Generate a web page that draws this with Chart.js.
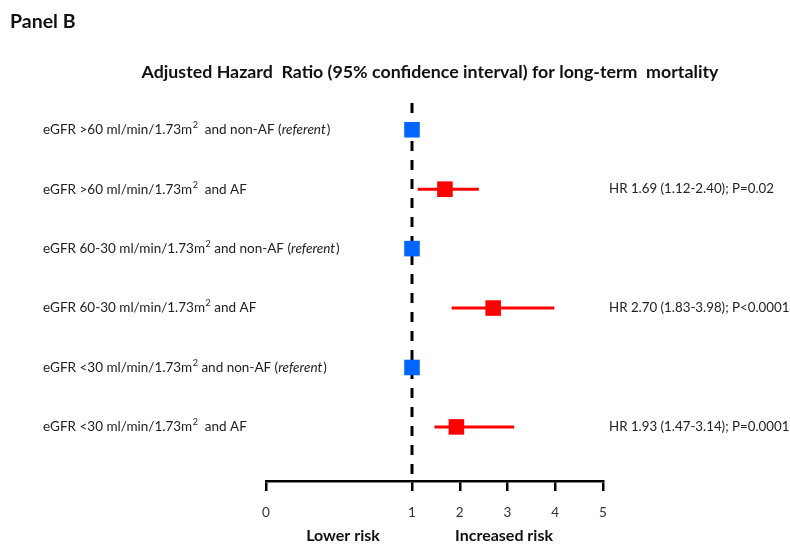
<!DOCTYPE html>
<html><head><meta charset="utf-8">
<script src="https://cdn.jsdelivr.net/npm/chart.js@4/dist/chart.umd.min.js"></script>
<style>html,body{margin:0;padding:0;background:#fff}#wrap{width:790px;height:552px;position:relative}</style>
</head><body><div id="wrap"><canvas id="c" width="790" height="552"></canvas></div>
<script>
// ---- data ----
const categories = [
  "eGFR >60 ml/min/1.73m\u00B2  and non-AF",
  "eGFR >60 ml/min/1.73m\u00B2  and AF",
  "eGFR 60-30 ml/min/1.73m\u00B2 and non-AF",
  "eGFR 60-30 ml/min/1.73m\u00B2 and AF",
  "eGFR <30 ml/min/1.73m\u00B2 and non-AF",
  "eGFR <30 ml/min/1.73m\u00B2  and AF"
];
const isReferent = [true, false, true, false, true, false];
const hazardRatio = [1, 1.69, 1, 2.70, 1, 1.93];
const ciLower = [null, 1.12, null, 1.83, null, 1.47];
const ciUpper = [null, 2.40, null, 3.98, null, 3.14];
const annotations = ["", "HR 1.69 (1.12-2.40); P=0.02", "", "HR 2.70 (1.83-3.98); P<0.0001", "", "HR 1.93 (1.47-3.14); P=0.0001"];
const xTickValues = [0, 1, 2, 3, 4, 5];
const referenceValue = 1;

// ---- custom broken axis: 0..1 stretched, 1..5 compressed ----
const SPLIT = 146 / 337;
class BrokenScale extends Chart.LinearScale {
  getPixelForValue(v) {
    const a = this.left, w = this.width;
    if (v <= 1) return a + v * SPLIT * w;
    return a + SPLIT * w + (v - 1) / 4 * (1 - SPLIT) * w;
  }
  getValueForPixel(p) {
    const a = this.left, w = this.width, r = (p - a) / w;
    if (r <= SPLIT) return r / SPLIT;
    return 1 + (r - SPLIT) / (1 - SPLIT) * 4;
  }
  buildTicks() { return xTickValues.map(v => ({ value: v })); }
}
BrokenScale.id = 'broken';
BrokenScale.defaults = Chart.LinearScale.defaults;
Chart.register(BrokenScale);

const FONT = "Lato, 'Open Sans', sans-serif";
const Y_MIN = -0.45, Y_MAX = 5.91;

const datasets = [];
// points
datasets.push({
  type: 'scatter',
  data: hazardRatio.map((v, i) => ({ x: v, y: i })),
  pointStyle: 'rect',
  pointRadius: 11,
  pointBorderWidth: 0,
  backgroundColor: isReferent.map(r => r ? '#0066ff' : '#ff0000'),
  borderColor: isReferent.map(r => r ? '#0066ff' : '#ff0000'),
  order: 0
});
// CI lines
hazardRatio.forEach((v, i) => {
  if (ciLower[i] == null) return;
  datasets.push({
    type: 'line',
    data: [{ x: ciLower[i], y: i }, { x: ciUpper[i], y: i }],
    borderColor: '#ff0000',
    borderWidth: 3,
    pointRadius: 0,
    order: 1
  });
});
// reference dashed line at HR = 1
datasets.push({
  type: 'line',
  data: [{ x: referenceValue, y: Y_MIN }, { x: referenceValue, y: Y_MAX }],
  borderColor: '#000',
  borderWidth: 3,
  borderDash: [10, 9],
  pointRadius: 0,
  clip: false,
  order: 2
});

// draw text where '²' is rendered as a raised small "2"
function drawSup(ctx, text, x, y, size, style) {
  const parts = text.split('\u00B2');
  parts.forEach((p, k) => {
    ctx.font = `${style} ${size}px ${FONT}`;
    ctx.fillText(p, x, y);
    x += ctx.measureText(p).width;
    if (k < parts.length - 1) {
      ctx.font = `${style} ${Math.round(size * 0.68)}px ${FONT}`;
      ctx.fillText('2', x + 0.5, y - 4.5);
      x += ctx.measureText('2').width + 0.5;
    }
  });
  return x;
}

const textPlugin = {
  id: 'texts',
  afterDraw(chart) {
    const ctx = chart.ctx;
    const ys = chart.scales.y;
    ctx.save();
    ctx.textBaseline = 'middle';
    // Panel label
    ctx.fillStyle = '#111';
    ctx.font = `bold 19.5px ${FONT}`;
    ctx.textAlign = 'left';
    ctx.fillText('Panel B', 10, 22);
    // Title
    ctx.font = `bold 17.8px ${FONT}`;
    ctx.textAlign = 'center';
    ctx.fillText('Adjusted Hazard  Ratio (95% confidence interval) for long-term  mortality', 430, 72);
    // Row labels
    ctx.textAlign = 'left';
    ctx.fillStyle = '#222';
    const LS = 13.5;
    categories.forEach((c, i) => {
      const y = ys.getPixelForValue(i);
      let x = drawSup(ctx, c, 43, y, LS, 'normal');
      if (isReferent[i]) {
        ctx.font = `${LS}px ${FONT}`;
        ctx.fillText(' (', x, y); x += ctx.measureText(' (').width;
        ctx.font = `italic ${LS}px ${FONT}`;
        ctx.fillText('referent', x, y); x += ctx.measureText('referent').width + 1;
        ctx.font = `${LS}px ${FONT}`;
        ctx.fillText(')', x, y);
      }
      if (annotations[i]) {
        ctx.font = `13.3px ${FONT}`;
        ctx.fillText(annotations[i], 609, y);
      }
    });
    // Axis side labels
    ctx.fillStyle = '#111';
    ctx.font = `bold 16px ${FONT}`;
    ctx.textAlign = 'center';
    ctx.fillText('Lower risk', 343, 536);
    ctx.fillText('Increased risk', 504, 536);
    ctx.restore();
  }
};

new Chart(document.getElementById('c'), {
  type: 'scatter',
  data: { datasets },
  options: {
    responsive: false,
    animation: false,
    events: [],
    layout: { padding: { left: 266, right: 187, top: 103, bottom: 0 } },
    plugins: { legend: { display: false }, tooltip: { enabled: false } },
    scales: {
      x: {
        type: 'broken',
        position: 'bottom',
        min: 0, max: 5,
        border: { display: true, color: '#000', width: 2.5 },
        grid: { drawOnChartArea: false, drawTicks: true, tickLength: 10, color: '#000', lineWidth: 2.5 },
        ticks: { color: '#333', font: { family: FONT, size: 13.5 }, padding: 14, maxRotation: 0, autoSkip: false },
        afterFit: s => { s.height = 71; }
      },
      y: {
        type: 'linear',
        display: false,
        reverse: true,
        min: Y_MIN, max: Y_MAX
      }
    }
  },
  plugins: [textPlugin]
});
</script>
</body></html>
